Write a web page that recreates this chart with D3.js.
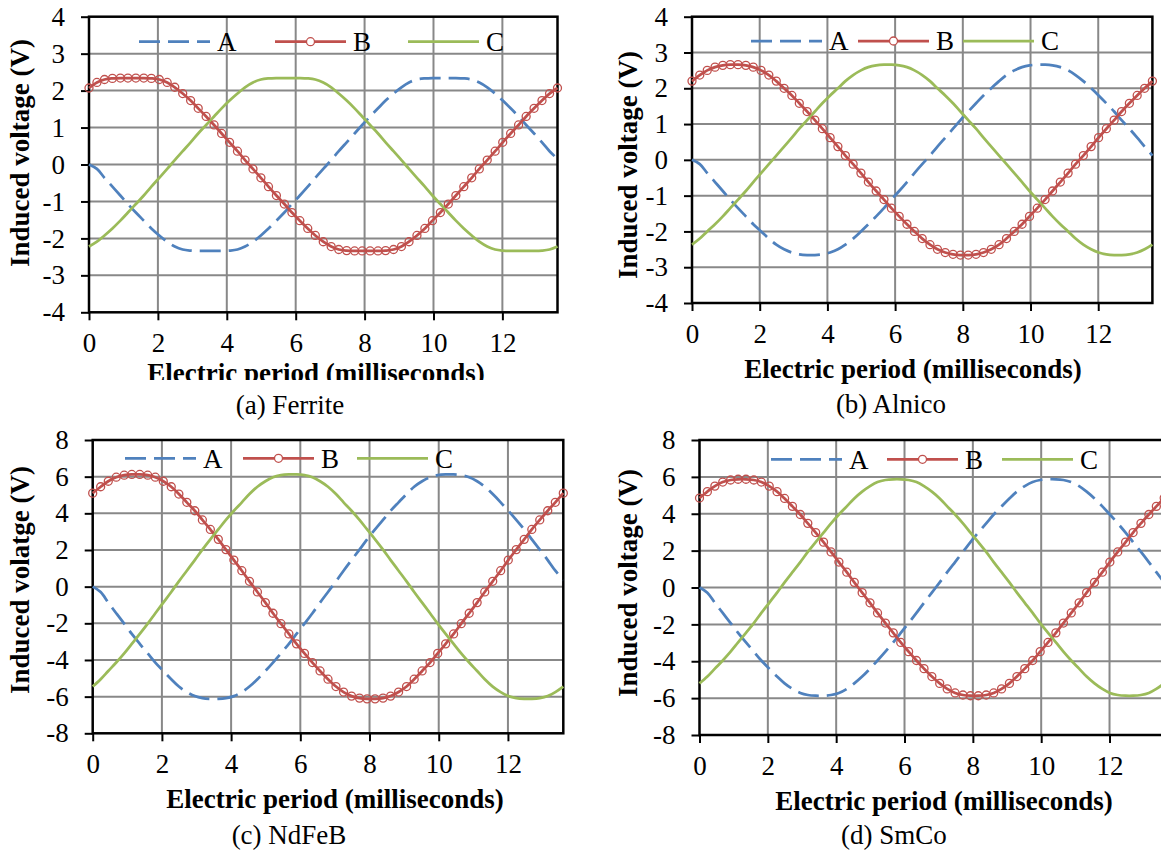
<!DOCTYPE html>
<html>
<head>
<meta charset="utf-8">
<script src="https://cdn.jsdelivr.net/npm/d3@7"></script>
<style>
  body { margin: 0; background: #fff; }
  svg { display: block; }
  svg text { font-family: "Liberation Serif", Tinos, "Times New Roman", "DejaVu Serif", serif; fill: #000; }
</style>
</head>
<body>
<div class="canvas"></div>
<script>
// sample times (ms), one electric period in 60 steps
const time = [0, 0.23, 0.45, 0.68, 0.91, 1.13, 1.36, 1.59, 1.81, 2.04,
  2.27, 2.49, 2.72, 2.95, 3.17, 3.40, 3.63, 3.85, 4.08, 4.31,
  4.53, 4.76, 4.99, 5.21, 5.44, 5.67, 5.89, 6.12, 6.35, 6.57,
  6.80, 7.03, 7.25, 7.48, 7.71, 7.93, 8.16, 8.39, 8.61, 8.84,
  9.07, 9.29, 9.52, 9.75, 9.97, 10.20, 10.43, 10.65, 10.88, 11.11,
  11.33, 11.56, 11.79, 12.01, 12.24, 12.47, 12.69, 12.92, 13.15, 13.37, 13.60];
const periodEnd = 13.6;

const seriesNames = ['A', 'B', 'C'];
const xTicks = [0, 2, 4, 6, 8, 10, 12];
const yTicksSmall = [-4, -3, -2, -1, 0, 1, 2, 3, 4];
const yTicksLarge = [-8, -6, -4, -2, 0, 2, 4, 6, 8];
const captions = ['(a) Ferrite', '(b) Alnico', '(c) NdFeB', '(d) SmCo'];
const yTitles = ['Induced voltage (V)', 'Induced voltage (V)', 'Induced volatge (V)', 'Induced voltage (V)'];
const xTitle = 'Electric period (milliseconds)';

// (a) Ferrite
const ferriteA = [0,
  -0.12, -0.36, -0.60, -0.84, -1.07, -1.30, -1.52, -1.73, -1.92, -2.09, -2.22, -2.30, -2.33, -2.34, -2.34,
  -2.34, -2.34, -2.33, -2.30, -2.22, -2.09, -1.92, -1.73, -1.52, -1.30, -1.07, -0.84, -0.60, -0.36, -0.12,
  0.12, 0.36, 0.60, 0.84, 1.07, 1.30, 1.52, 1.73, 1.92, 2.09, 2.22, 2.30, 2.33, 2.34, 2.34,
  2.34, 2.34, 2.33, 2.30, 2.22, 2.09, 1.92, 1.73, 1.52, 1.30, 1.07, 0.84, 0.60, 0.36, 0.15];
const ferriteB = [2.07, 2.22, 2.30, 2.33, 2.34, 2.34,
  2.34, 2.34, 2.33, 2.30, 2.22, 2.09, 1.92, 1.73, 1.52, 1.30, 1.07, 0.84, 0.60, 0.36, 0.12,
  -0.12, -0.36, -0.60, -0.84, -1.07, -1.30, -1.52, -1.73, -1.92, -2.09, -2.22, -2.30, -2.33, -2.34, -2.34,
  -2.34, -2.34, -2.33, -2.30, -2.22, -2.09, -1.92, -1.73, -1.52, -1.30, -1.07, -0.84, -0.60, -0.36, -0.12,
  0.12, 0.36, 0.60, 0.84, 1.07, 1.30, 1.52, 1.73, 1.92, 2.07];
const ferriteC = [-2.22, -2.09, -1.92, -1.73, -1.52, -1.30, -1.07, -0.84, -0.60, -0.36, -0.12,
  0.12, 0.36, 0.60, 0.84, 1.07, 1.30, 1.52, 1.73, 1.92, 2.09, 2.22, 2.30, 2.33, 2.34, 2.34,
  2.34, 2.34, 2.33, 2.30, 2.22, 2.09, 1.92, 1.73, 1.52, 1.30, 1.07, 0.84, 0.60, 0.36, 0.12,
  -0.12, -0.36, -0.60, -0.84, -1.07, -1.30, -1.52, -1.73, -1.92, -2.09, -2.22, -2.30, -2.33, -2.34, -2.34,
  -2.34, -2.34, -2.33, -2.30, -2.22];

// (b) Alnico
const alnicoA = [0,
  -0.12, -0.37, -0.62, -0.87, -1.11, -1.35, -1.58, -1.80, -2.00, -2.20, -2.37, -2.50, -2.59, -2.64, -2.66,
  -2.66, -2.64, -2.59, -2.50, -2.37, -2.20, -2.00, -1.80, -1.58, -1.35, -1.11, -0.87, -0.62, -0.37, -0.12,
  0.12, 0.37, 0.62, 0.87, 1.11, 1.35, 1.58, 1.80, 2.00, 2.20, 2.37, 2.50, 2.59, 2.64, 2.66,
  2.66, 2.64, 2.59, 2.50, 2.37, 2.20, 2.00, 1.80, 1.58, 1.35, 1.11, 0.87, 0.62, 0.37, 0.12];
const alnicoB = [2.20, 2.37, 2.50, 2.59, 2.64, 2.66,
  2.66, 2.64, 2.59, 2.50, 2.37, 2.20, 2.00, 1.80, 1.58, 1.35, 1.11, 0.87, 0.62, 0.37, 0.12,
  -0.12, -0.37, -0.62, -0.87, -1.11, -1.35, -1.58, -1.80, -2.00, -2.20, -2.37, -2.50, -2.59, -2.64, -2.66,
  -2.66, -2.64, -2.59, -2.50, -2.37, -2.20, -2.00, -1.80, -1.58, -1.35, -1.11, -0.87, -0.62, -0.37, -0.12,
  0.12, 0.37, 0.62, 0.87, 1.11, 1.35, 1.58, 1.80, 2.00, 2.20];
const alnicoC = [-2.37, -2.20, -2.00, -1.80, -1.58, -1.35, -1.11, -0.87, -0.62, -0.37, -0.12,
  0.12, 0.37, 0.62, 0.87, 1.11, 1.35, 1.58, 1.80, 2.00, 2.20, 2.37, 2.50, 2.59, 2.64, 2.66,
  2.66, 2.64, 2.59, 2.50, 2.37, 2.20, 2.00, 1.80, 1.58, 1.35, 1.11, 0.87, 0.62, 0.37, 0.12,
  -0.12, -0.37, -0.62, -0.87, -1.11, -1.35, -1.58, -1.80, -2.00, -2.20, -2.37, -2.50, -2.59, -2.64, -2.66,
  -2.66, -2.64, -2.59, -2.50, -2.37];

// (c) NdFeB
const ndfebA = [0,
  -0.29, -0.87, -1.45, -2.02, -2.58, -3.12, -3.64, -4.14, -4.60, -5.05, -5.45, -5.75, -5.97, -6.08, -6.12,
  -6.12, -6.08, -5.97, -5.75, -5.45, -5.05, -4.60, -4.14, -3.64, -3.12, -2.58, -2.02, -1.45, -0.87, -0.29,
  0.29, 0.87, 1.45, 2.02, 2.58, 3.12, 3.64, 4.14, 4.60, 5.05, 5.45, 5.75, 5.97, 6.08, 6.12,
  6.12, 6.08, 5.97, 5.75, 5.45, 5.05, 4.60, 4.14, 3.64, 3.12, 2.58, 2.02, 1.45, 0.87, 0.35];
const ndfebB = [5.10, 5.45, 5.75, 5.97, 6.08, 6.12,
  6.12, 6.08, 5.97, 5.75, 5.45, 5.05, 4.60, 4.14, 3.64, 3.12, 2.58, 2.02, 1.45, 0.87, 0.29,
  -0.29, -0.87, -1.45, -2.02, -2.58, -3.12, -3.64, -4.14, -4.60, -5.05, -5.45, -5.75, -5.97, -6.08, -6.12,
  -6.12, -6.08, -5.97, -5.75, -5.45, -5.05, -4.60, -4.14, -3.64, -3.12, -2.58, -2.02, -1.45, -0.87, -0.29,
  0.29, 0.87, 1.45, 2.02, 2.58, 3.12, 3.64, 4.14, 4.60, 5.10];
const ndfebC = [-5.45, -5.05, -4.60, -4.14, -3.64, -3.12, -2.58, -2.02, -1.45, -0.87, -0.29,
  0.29, 0.87, 1.45, 2.02, 2.58, 3.12, 3.64, 4.14, 4.60, 5.05, 5.45, 5.75, 5.97, 6.08, 6.12,
  6.12, 6.08, 5.97, 5.75, 5.45, 5.05, 4.60, 4.14, 3.64, 3.12, 2.58, 2.02, 1.45, 0.87, 0.29,
  -0.29, -0.87, -1.45, -2.02, -2.58, -3.12, -3.64, -4.14, -4.60, -5.05, -5.45, -5.75, -5.97, -6.08, -6.12,
  -6.12, -6.08, -5.97, -5.75, -5.45];

// (d) SmCo
const smcoA = [0,
  -0.28, -0.83, -1.38, -1.93, -2.46, -2.98, -3.48, -3.96, -4.40, -4.83, -5.20, -5.50, -5.72, -5.83, -5.87,
  -5.87, -5.83, -5.72, -5.50, -5.20, -4.83, -4.40, -3.96, -3.48, -2.98, -2.46, -1.93, -1.38, -0.83, -0.28,
  0.28, 0.83, 1.38, 1.93, 2.46, 2.98, 3.48, 3.96, 4.40, 4.83, 5.20, 5.50, 5.72, 5.83, 5.87,
  5.87, 5.83, 5.72, 5.50, 5.20, 4.83, 4.40, 3.96, 3.48, 2.98, 2.46, 1.93, 1.38, 0.83, 0.28];
const smcoB = [4.85, 5.20, 5.50, 5.72, 5.83, 5.87,
  5.87, 5.83, 5.72, 5.50, 5.20, 4.83, 4.40, 3.96, 3.48, 2.98, 2.46, 1.93, 1.38, 0.83, 0.28,
  -0.28, -0.83, -1.38, -1.93, -2.46, -2.98, -3.48, -3.96, -4.40, -4.83, -5.20, -5.50, -5.72, -5.83, -5.87,
  -5.87, -5.83, -5.72, -5.50, -5.20, -4.83, -4.40, -3.96, -3.48, -2.98, -2.46, -1.93, -1.38, -0.83, -0.28,
  0.28, 0.83, 1.38, 1.93, 2.46, 2.98, 3.48, 3.96, 4.40, 4.85];
const smcoC = [-5.20, -4.83, -4.40, -3.96, -3.48, -2.98, -2.46, -1.93, -1.38, -0.83, -0.28,
  0.28, 0.83, 1.38, 1.93, 2.46, 2.98, 3.48, 3.96, 4.40, 4.83, 5.20, 5.50, 5.72, 5.83, 5.87,
  5.87, 5.83, 5.72, 5.50, 5.20, 4.83, 4.40, 3.96, 3.48, 2.98, 2.46, 1.93, 1.38, 0.83, 0.28,
  -0.28, -0.83, -1.38, -1.93, -2.46, -2.98, -3.48, -3.96, -4.40, -4.83, -5.20, -5.50, -5.72, -5.83, -5.87,
  -5.87, -5.83, -5.72, -5.50, -5.20];

const colour = d3.scaleOrdinal().domain(seriesNames).range(['#4f81bd', '#c0504d', '#9bbb59']);
const serif = '"Liberation Serif", Tinos, "Times New Roman", "DejaVu Serif", serif';

// layout of the four panels
const panels = [
  { values: [ferriteA, ferriteB, ferriteC], yTicks: yTicksSmall,
    left: 89, right: 557.5, top: 16.7, bottom: 312.3,
    yTitleX: 29, yTitleY: 153, xTitleX: 316, xTitleDy: 70, capX: 290, capY: 414,
    legY: 41.7, legX: [139, 275, 408], clipTitle: true },
  { values: [alnicoA, alnicoB, alnicoC], yTicks: yTicksSmall,
    left: 692, right: 1152.4, top: 16.7, bottom: 303,
    yTitleX: 637, yTitleY: 165, xTitleX: 913, xTitleDy: 75, capX: 891, capY: 413,
    legY: 41, legX: [751, 858, 963] },
  { values: [ndfebA, ndfebB, ndfebC], yTicks: yTicksLarge,
    left: 92.7, right: 563.3, top: 440, bottom: 733.3,
    yTitleX: 29, yTitleY: 580, xTitleX: 335, xTitleDy: 75, capX: 289, capY: 843.5,
    legY: 458.3, legX: [125, 243, 357] },
  { values: [smcoA, smcoB, smcoC], yTicks: yTicksLarge,
    left: 699.5, right: 1164.2, top: 440, bottom: 735,
    yTitleX: 637, yTitleY: 583, xTitleX: 944, xTitleDy: 75, capX: 894, capY: 843.5,
    legY: 459.3, legX: [771, 887, 1002] }
];

const svg = d3.select('.canvas')
  .append('svg')
  .attr('width', 1161)
  .attr('height', 854)
  .attr('font-family', serif);

// the ferrite x title is cut off at its bottom in the original
svg.append('defs').append('clipPath')
  .attr('id', 'clip-a')
  .append('rect')
  .attr('x', 0).attr('y', 0).attr('width', 580).attr('height', 380);

const drawPanel = (p, k) => {
  const x = d3.scaleLinear().domain([0, periodEnd]).range([p.left, p.right]);
  const y = d3.scaleLinear().domain(d3.extent(p.yTicks)).range([p.bottom, p.top]);
  const g = svg.append('g');

  // grid
  g.selectAll('.vgrid')
    .data(xTicks.filter(d => d > 0))
    .enter().append('line')
    .attr('x1', d => x(d)).attr('x2', d => x(d))
    .attr('y1', p.top).attr('y2', p.bottom)
    .attr('stroke', '#888').attr('stroke-width', 2);

  g.selectAll('.hgrid')
    .data(p.yTicks.slice(1, -1))
    .enter().append('line')
    .attr('x1', p.left).attr('x2', p.right)
    .attr('y1', d => y(d)).attr('y2', d => y(d))
    .attr('stroke', '#888').attr('stroke-width', 2);

  // axes
  const yAxis = g.append('g')
    .attr('transform', `translate(${p.left}, 0)`)
    .call(d3.axisLeft(y).tickValues(p.yTicks).tickSize(8).tickSizeOuter(0)
      .tickPadding(16).tickFormat(d => String(d)));
  const xAxis = g.append('g')
    .attr('transform', `translate(0, ${p.bottom})`)
    .call(d3.axisBottom(x).tickValues(xTicks).tickSize(8).tickSizeOuter(0)
      .tickFormat(d => String(d)));

  [yAxis, xAxis].forEach(ax => {
    ax.select('.domain').remove();
    ax.attr('font-family', serif).attr('font-size', 27);
    ax.selectAll('line').attr('stroke', '#000').attr('stroke-width', 2);
  });
  xAxis.selectAll('text').attr('y', 40).attr('dy', 0);

  g.append('rect')
    .attr('x', p.left).attr('y', p.top)
    .attr('width', p.right - p.left).attr('height', p.bottom - p.top)
    .attr('fill', 'none').attr('stroke', '#000').attr('stroke-width', 2.5);

  // series
  const line = d3.line()
    .x((d, i) => x(time[i]))
    .y(d => y(d))
    .curve(d3.curveCatmullRom);

  p.values.forEach((vals, s) => {
    g.append('path')
      .datum(vals)
      .attr('d', line)
      .attr('fill', 'none')
      .attr('stroke', colour(seriesNames[s]))
      .attr('stroke-width', 2.75)
      .attr('stroke-dasharray', s === 0 ? '21,8' : null);
  });

  g.selectAll('.marker')
    .data(p.values[1])
    .enter().append('circle')
    .attr('cx', (d, i) => x(time[i]))
    .attr('cy', d => y(d))
    .attr('r', 4)
    .attr('fill', 'none')
    .attr('stroke', colour('B'))
    .attr('stroke-width', 1.3);

  // legend
  seriesNames.forEach((name, s) => {
    const lx = p.legX[s];
    g.append('line')
      .attr('x1', lx).attr('x2', lx + 71)
      .attr('y1', p.legY).attr('y2', p.legY)
      .attr('stroke', colour(name))
      .attr('stroke-width', 2.75)
      .attr('stroke-dasharray', s === 0 ? '21,8' : null);
    if (s === 1) {
      g.append('circle')
        .attr('cx', lx + 35.5).attr('cy', p.legY).attr('r', 4)
        .attr('fill', '#fff').attr('stroke', colour(name)).attr('stroke-width', 1.3);
    }
    g.append('text')
      .attr('x', lx + 78).attr('y', p.legY)
      .attr('dy', '0.35em')
      .attr('font-size', 27)
      .text(name);
  });

  // titles
  g.append('text')
    .attr('transform', `translate(${p.yTitleX}, ${p.yTitleY}) rotate(-90)`)
    .attr('text-anchor', 'middle')
    .attr('font-size', 27)
    .attr('font-weight', 'bold')
    .text(yTitles[k]);

  g.append('text')
    .attr('x', p.xTitleX).attr('y', p.bottom + p.xTitleDy)
    .attr('text-anchor', 'middle')
    .attr('clip-path', p.clipTitle ? 'url(#clip-a)' : null)
    .attr('font-size', 27)
    .attr('font-weight', 'bold')
    .text(xTitle);

  g.append('text')
    .attr('x', p.capX).attr('y', p.capY)
    .attr('text-anchor', 'middle')
    .attr('font-size', 27)
    .text(captions[k]);
};

panels.forEach(drawPanel);
</script>
</body>
</html>
